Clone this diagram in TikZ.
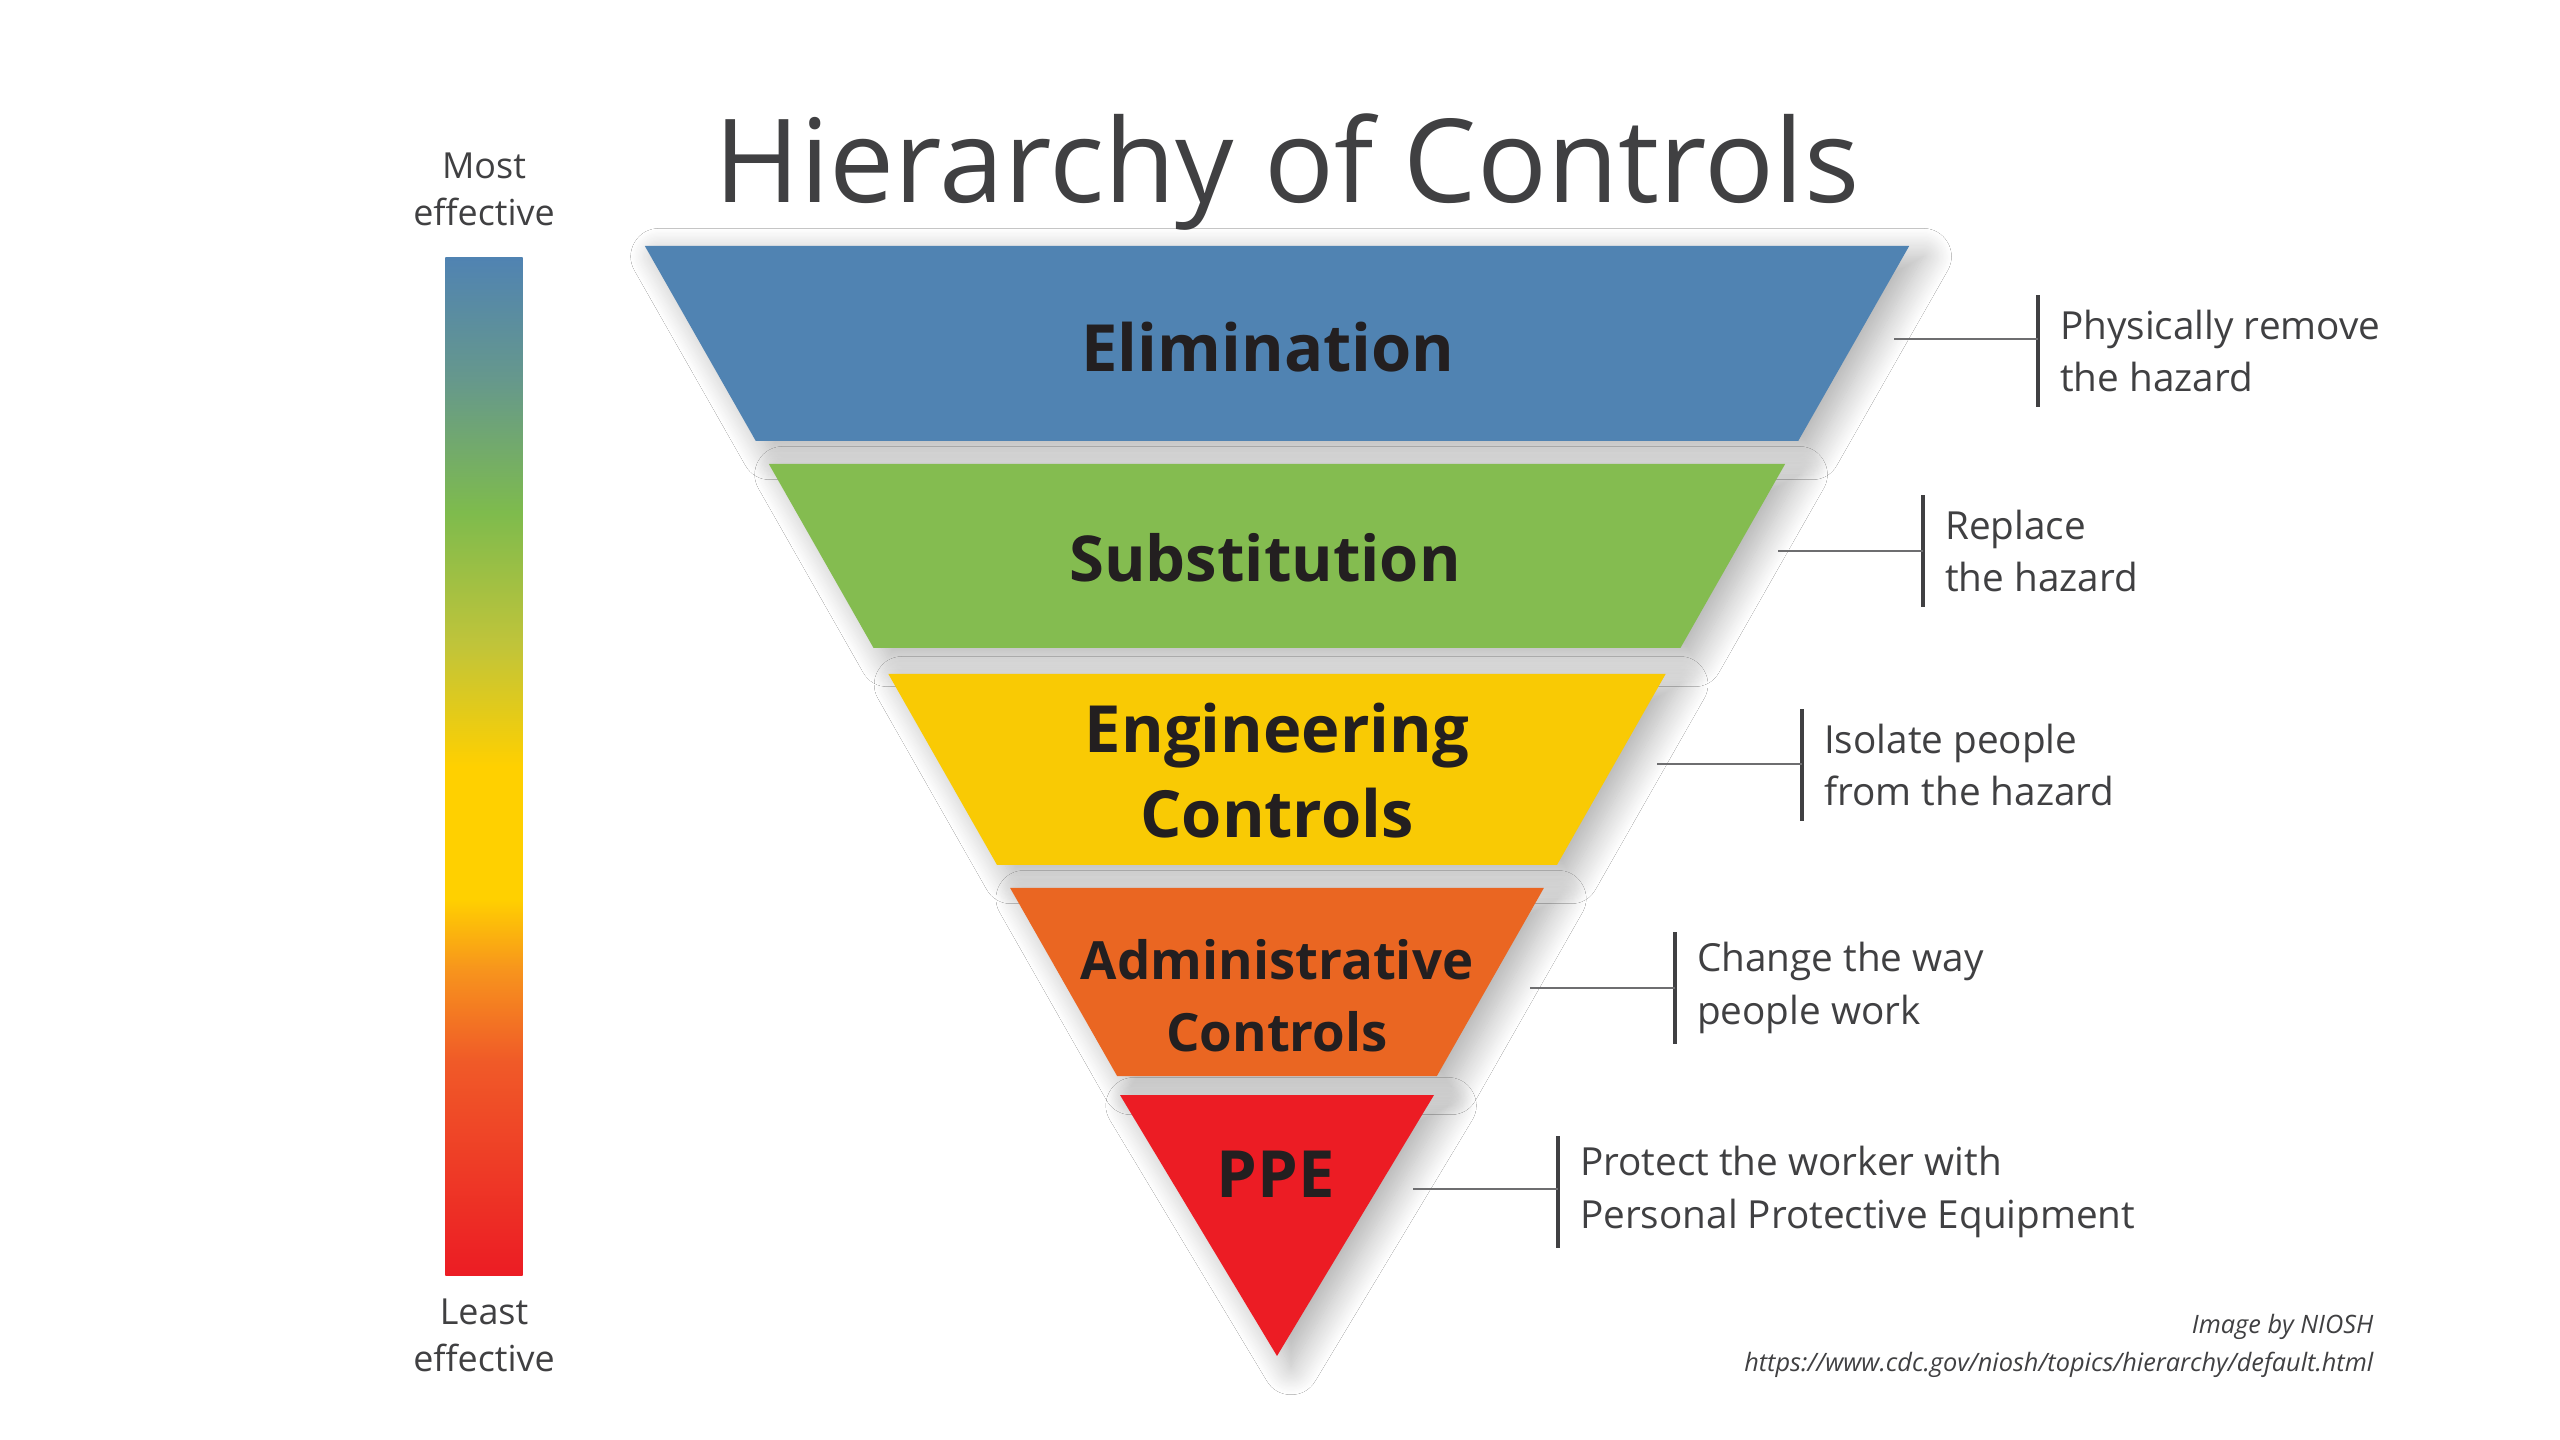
\documentclass[tikz,border=0pt]{standalone}
\usepackage{fontspec}
\setmainfont{Open Sans}
\usetikzlibrary{positioning,shadows.blur}
\definecolor{elimblue}{RGB}{80,131,178}
\definecolor{substgreen}{RGB}{132,188,80}
\definecolor{enggold}{RGB}{249,202,4}
\definecolor{adminorange}{RGB}{234,102,34}
\definecolor{ppered}{RGB}{236,28,36}
\definecolor{barteal}{RGB}{102,152,140}
\definecolor{bargreen}{RGB}{126,187,77}
\definecolor{barlime}{RGB}{192,196,58}
\definecolor{baryellow}{RGB}{255,208,0}
\definecolor{barorange}{RGB}{247,148,29}
\definecolor{barorangered}{RGB}{240,90,40}
\definecolor{labelblack}{RGB}{35,31,32}
\definecolor{descgrey}{RGB}{64,64,66}
\definecolor{leadgrey}{RGB}{110,110,112}
\pgfdeclareverticalshading{effbar}{100bp}{color(0bp)=(ppered); color(25bp)=(ppered);
  color(35.5bp)=(barorangered); color(40bp)=(barorange); color(43.5bp)=(baryellow);
  color(50bp)=(baryellow); color(56bp)=(barlime); color(62.5bp)=(bargreen);
  color(69bp)=(barteal); color(75bp)=(elimblue); color(100bp)=(elimblue)}

\begin{document}
\begin{tikzpicture}[
  x=0.01cm, y=-0.01cm,
  band/.style={blur shadow={shadow xshift=4pt, shadow yshift=-3pt,
               shadow blur radius=8pt, shadow blur steps=24, shadow opacity=32}},
  bandlabel/.style={font=\bfseries\fontsize{18.5}{22.2}\selectfont,
                    text=labelblack, align=center, inner sep=0pt},
  barlabel/.style={font=\fontsize{10.2}{13.4}\selectfont, text=descgrey,
                   align=center, inner sep=0pt},
  desc/.style={font=\fontsize{11}{14.9}\selectfont, text=descgrey,
               align=left, anchor=west, inner xsep=6.1pt, inner ysep=0pt},
  stem/.style={draw=descgrey, line width=1.1pt},
  leader/.style={draw=leadgrey, line width=0.55pt},
  credit/.style={font=\itshape\fontsize{7.2}{8}\selectfont, text=descgrey,
                 anchor=base east, inner sep=0pt}
]
  \fill[white] (0,0) rectangle (2560,1440);
  \useasboundingbox (0,0) rectangle (2560,1440);

  \node[font=\fontsize{33}{40}\selectfont, text=descgrey, anchor=base,
        inner sep=0pt] (title) at (1287,203) {Hierarchy of Controls};

  % the inverted pyramid
  \foreach \ytop/\ybot/\col in {246/441/elimblue, 464/648/substgreen,
                                674/865/enggold, 888/1076/adminorange}{
    \pgfmathsetmacro\wt{0.569*(1357-\ytop)}
    \pgfmathsetmacro\wb{0.569*(1357-\ybot)}
    \fill[\col, band] (1277-\wt,\ytop) -- (1277+\wt,\ytop)
      -- (1277+\wb,\ybot) -- (1277-\wb,\ybot) -- cycle;
  }
  \fill[ppered, band] (1120,1095) -- (1434,1095) -- (1277,1356) -- cycle;

  \node[bandlabel, anchor=base] (elim) at (1268,372) {Elimination};
  \node[bandlabel, anchor=base, font=\bfseries\fontsize{18}{22.2}\selectfont]
    (subst) at (1265,582) {Substitution};
  \node[bandlabel, font=\bfseries\fontsize{18.5}{24.2}\selectfont] (eng) at (1277,771)
    {Engineering\\Controls};
  \node[bandlabel, font=\bfseries\fontsize{15}{20.4}\selectfont] (admin) at (1277,996)
    {Administrative\\Controls};
  \node[bandlabel, anchor=base] (ppe) at (1276,1197) {PPE};

  % effectiveness bar
  \node[shade, shading=effbar, minimum width=0.77cm, minimum height=10.17cm,
        inner sep=0pt] (bar) at (484,766.5) {};
  \node[barlabel, above=0.3cm of bar] (most) {Most\\effective};
  \node[barlabel, below=0.22cm of bar] (least) {Least\\effective};

  % descriptions
  \node[desc] (dElim) at (2038,351) {Physically remove\\the hazard};
  \node[desc] (dSubst) at (1923,551) {Replace\\the hazard};
  \node[desc] (dEng) at (1802,765) {Isolate people\\from the hazard};
  \node[desc] (dAdmin) at (1675,988) {Change the way\\people work};
  \node[desc] (dPpe) at (1558,1192) {Protect the worker with\\Personal Protective Equipment};

  \coordinate (tElim) at (1894,339);
  \coordinate (tSubst) at (1778,551);
  \coordinate (tEng) at (1657,764);
  \coordinate (tAdmin) at (1530,988);
  \coordinate (tPpe) at (1413,1189);

  \foreach \n in {Elim,Subst,Eng,Admin,Ppe}{
    \draw[stem] ([yshift=15.8pt]d\n.west) -- ([yshift=-15.8pt]d\n.west);
    \draw[leader] (t\n) -- (t\n -| d\n.west);
  }

  \node[credit] (niosh) at (2374,1333) {Image by NIOSH};
  \node[credit] (url) at (2374,1371) {https://www.cdc.gov/niosh/topics/hierarchy/default.html};
\end{tikzpicture}
\end{document}
